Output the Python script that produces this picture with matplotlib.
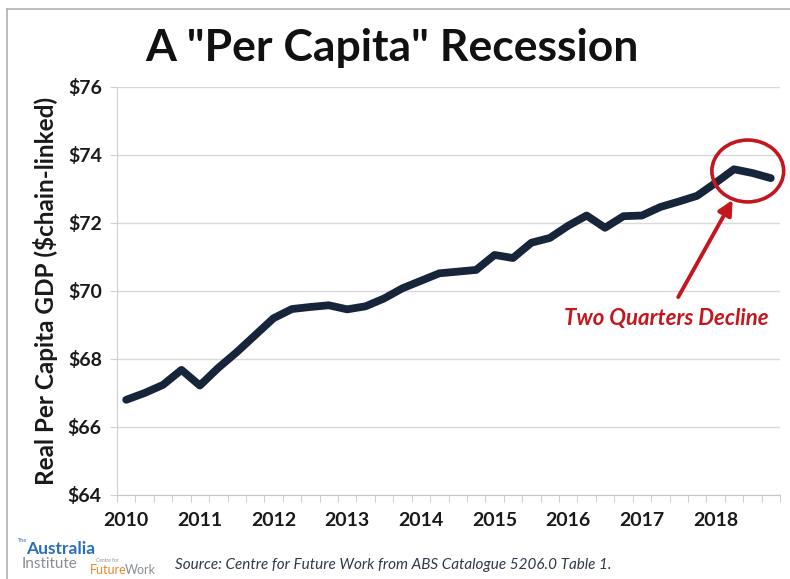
import matplotlib
matplotlib.use("Agg")
import matplotlib.pyplot as plt
from matplotlib.patches import Ellipse, FancyArrowPatch
from matplotlib.lines import Line2D

# ---- data (quarterly, Mar 2010 - Dec 2018) ----
gdp_per_capita = [66.80, 67.00, 67.24, 67.68, 67.22, 67.74, 68.20, 68.70,
                  69.20, 69.47, 69.53, 69.58, 69.46, 69.55, 69.78, 70.08,
                  70.30, 70.52, 70.57, 70.62, 71.06, 70.97, 71.42, 71.56,
                  71.92, 72.22, 71.86, 72.20, 72.22, 72.47, 72.63, 72.80,
                  73.18, 73.58, 73.47, 73.32]
year_labels = ["2010", "2011", "2012", "2013", "2014", "2015", "2016", "2017", "2018"]
y_ticks = [64, 66, 68, 70, 72, 74, 76]
y_tick_labels = ["$64", "$66", "$68", "$70", "$72", "$74", "$76"]

FONT = "Lato"
plt.rcParams["font.family"] = [FONT, "DejaVu Sans"]

W, H = 790, 579
fig = plt.figure(figsize=(W / 100, H / 100), dpi=100)
fig.patch.set_facecolor("white")

# frame lines of the screenshot
fig.add_artist(Line2D([7 / W, 1], [1 - 9 / H, 1 - 9 / H], color="#b0b0b0", lw=1.2))
fig.add_artist(Line2D([7 / W, 7 / W], [0, 1 - 9 / H], color="#b0b0b0", lw=1.2))

left, right, top, bottom = 117, 780, 87, 495
ax = fig.add_axes([left / W, 1 - bottom / H, (right - left) / W, (bottom - top) / H])

n = len(gdp_per_capita)
xs = list(range(n))
ax.plot(xs, gdp_per_capita, color="#17253a", lw=5.6, solid_joinstyle="round",
        solid_capstyle="round", zorder=3)

ax.set_xlim(-0.5, n - 0.5)
ax.set_ylim(64, 76)
ax.set_yticks(y_ticks)
ax.set_yticklabels(y_tick_labels)
ax.set_xticks(list(range(0, 4 * len(year_labels), 4)))
ax.set_xticklabels(year_labels)
ax.set_xticks([i - 0.5 for i in range(n + 1)], minor=True)

ax.grid(axis="y", color="#d9d9d9", lw=1.0, zorder=0)
for s in ["top", "right"]:
    ax.spines[s].set_visible(False)
ax.spines["left"].set_color("#d0d0d0")
ax.spines["bottom"].set_color("#c8c8c8")
ax.tick_params(axis="x", which="major", length=0, pad=12, labelsize=14)
ax.tick_params(axis="x", which="minor", length=5, color="#c8c8c8", direction="out")
ax.tick_params(axis="y", length=5, color="#d0d0d0", pad=6, labelsize=14)
for lab in ax.get_xticklabels() + ax.get_yticklabels():
    lab.set_fontweight("bold")
    lab.set_color("#1a1a1a")

ax.set_ylabel("Real Per Capita GDP ($chain-linked)", fontsize=17.5, fontweight="bold",
              color="#1a1a1a", labelpad=7)

# title
fig.text(392 / W, 1 - 48 / H, 'A "Per Capita" Recession', ha="center", va="center",
         fontsize=32, fontweight="bold", color="#111111")

# annotation: circle, arrow and text (in data coordinates)
red = "#c4161c"
ell = Ellipse((33.75, 73.53), width=3.9, height=1.82, fill=False, edgecolor=red, lw=2.6,
              zorder=4, clip_on=False)
ax.add_patch(ell)
arr = FancyArrowPatch((29.9, 69.75), (33.0, 72.75), arrowstyle="-|>", mutation_scale=22,
                      color=red, lw=2.8, zorder=4)
ax.add_patch(arr)
ax.text(29.3, 69.2, "Two Quarters Decline", ha="center", va="center", color=red,
        fontsize=16, fontweight="bold", style="italic", zorder=5)

# source / logo
fig.text(175 / W, 1 - 565 / H, "Source: Centre for Future Work from ABS Catalogue 5206.0 Table 1.",
         ha="left", va="center", fontsize=11, style="italic", color="#2f3a4a")
fig.text(18 / W, 1 - 541 / H, "The", ha="left", va="center", fontsize=4, color="#2a6ebb")
fig.text(26 / W, 1 - 549 / H, "Australia", ha="left", va="center", fontsize=12.5,
         fontweight="bold", color="#2a6ebb")
fig.text(22 / W, 1 - 564 / H, "Institute", ha="left", va="center", fontsize=11,
         color="#8a8f96")
fig.text(96 / W, 1 - 560 / H, "Centre for", ha="left", va="center", fontsize=3.5,
         color="#8a8f96")
fig.text(90 / W, 1 - 570 / H, "Future", ha="left", va="center", fontsize=9,
         color="#e8892b")
fig.text(125 / W, 1 - 570 / H, "Work", ha="left", va="center", fontsize=9,
         color="#8a8f96")

fig.savefig("out.png", dpi=100, facecolor="white")
